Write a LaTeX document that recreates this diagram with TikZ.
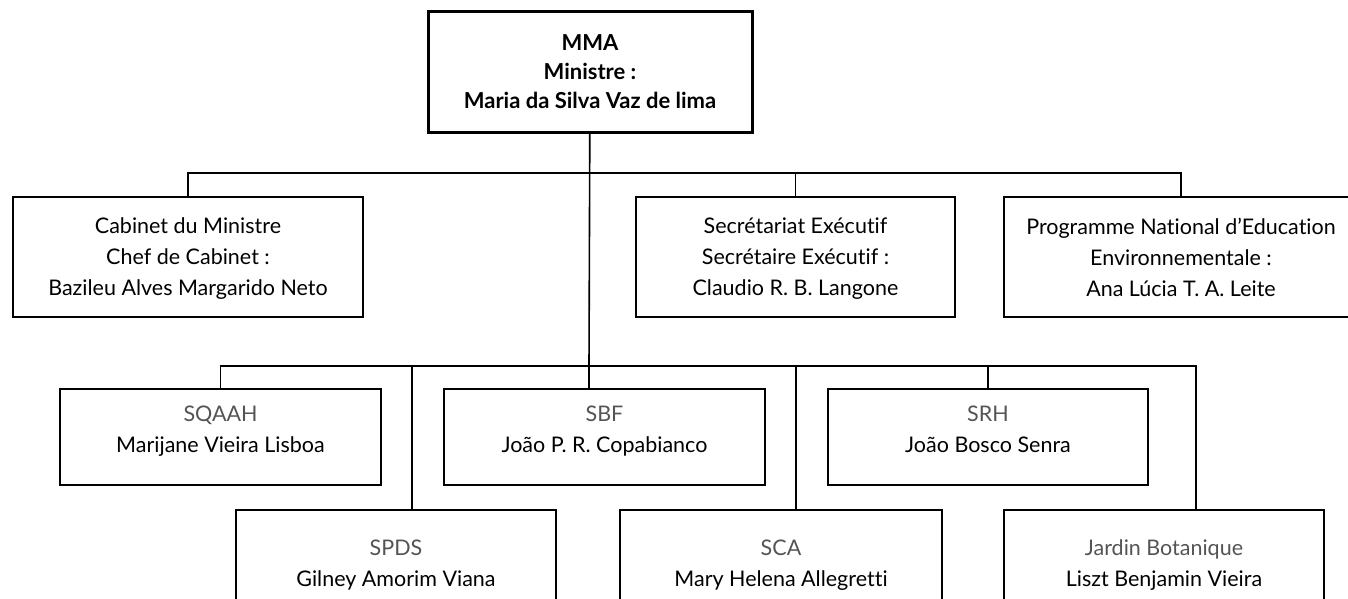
\documentclass[tikz,border=0pt]{standalone}
\usepackage{fontspec}
\setmainfont{Lato}[Ligatures=NoCommon]
\usepackage{xcolor}
\definecolor{abbrgray}{gray}{0.33}

\begin{document}
\begin{tikzpicture}[x=1pt,y=-1pt,
    box/.style={draw, line width=1.6pt, minimum height=#1, inner sep=0pt, align=center,
                font=\fontsize{21.5}{31}\selectfont},
    box/.default=120pt,
    topbox/.style={box, text depth=0pt},
    subbox/.style={box=#1, text depth=16pt},
    link/.style={line width=1.6pt}]
\clip (0,0) rectangle (1348,599);
\fill[white] (0,0) rectangle (1348,599);
\node[box, line width=3pt, minimum width=324pt, font=\fontsize{22}{29}\bfseries\selectfont] (mma) at (590,72)
    {MMA\\Ministre :\\Maria da Silva Vaz de lima};
\node[topbox, minimum width=350pt] (cab) at (188,257)
    {Cabinet du Ministre\\Chef de Cabinet :\\Bazileu Alves Margarido Neto};
\node[topbox, minimum width=319pt] (sec) at (795.5,257)
    {Secr\'etariat Ex\'ecutif\\Secr\'etaire Ex\'ecutif :\\Claudio R. B. Langone};
\node[topbox, minimum width=354pt] (prog) at (1181,257)
    {Programme National d’Education\\Environnementale :\\Ana L\'ucia T. A. Leite};
\node[subbox=96pt, minimum width=321pt] (sqaah) at (220.5,437)
    {\textcolor{abbrgray}{SQAAH}\\Marijane Vieira Lisboa};
\node[subbox=96pt, minimum width=321pt] (sbf) at (604.5,437)
    {\textcolor{abbrgray}{SBF}\\Jo\~ao P. R. Copabianco};
\node[subbox=96pt, minimum width=320pt] (srh) at (988,437)
    {\textcolor{abbrgray}{SRH}\\Jo\~ao Bosco Senra};
\node[subbox=123pt, minimum width=320pt] (spds) at (396,571.5)
    {\textcolor{abbrgray}{SPDS}\\Gilney Amorim Viana};
\node[subbox=123pt, minimum width=322pt] (sca) at (781,571.5)
    {\textcolor{abbrgray}{SCA}\\Mary Helena Allegretti};
\node[subbox=123pt, minimum width=320pt] (jardin) at (1164,571.5)
    {\textcolor{abbrgray}{Jardin Botanique}\\Liszt Benjamin Vieira};
\coordinate (up) at (589,173);
\coordinate (lo) at (589,366);
\coordinate (spdsx) at (412,366);
\coordinate (scax) at (796,366);
\coordinate (jardx) at (1196,366);
\draw[link] (mma) -- (lo);
\draw[link] (cab.north) |- (up) -| (prog.north);
\draw[link] (sec.north) -- (sec.north |- up);
\draw[link] (sqaah.north) |- (lo) -- (jardx) -- (jardx |- jardin.north);
\draw[link] (lo) -- (lo |- sbf.north);
\draw[link] (srh.north) -- (srh.north |- lo);
\draw[link] (spdsx) -- (spdsx |- spds.north);
\draw[link] (scax) -- (scax |- sca.north);
\end{tikzpicture}
\end{document}
